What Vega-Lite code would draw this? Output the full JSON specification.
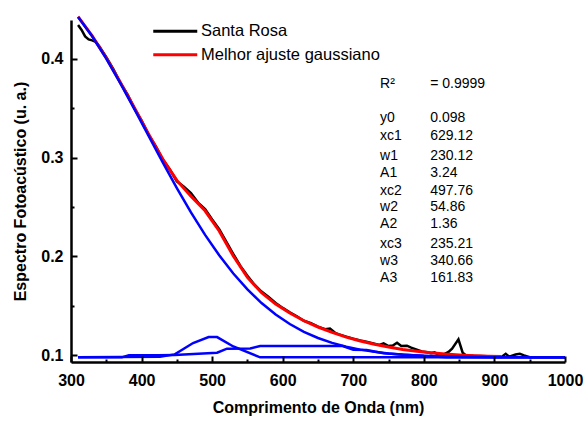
{
  "$schema": "https://vega.github.io/schema/vega-lite/v6.json",
  "width": 494,
  "height": 342,
  "padding": {"left": 71, "top": 20, "right": 20, "bottom": 61},
  "autosize": {"type": "none"},
  "background": "white",
  "view": {"stroke": null, "strokeWidth": 0, "fill": null},
  "config": {"view": {"stroke": null, "strokeWidth": 0, "fill": null}, "font": "Liberation Sans"},
  "datasets": {
    "curves": [
      {"s": "Santa Rosa", "x": 310, "y": 0.434}, {"s": "Santa Rosa", "x": 315, "y": 0.429}, {"s": "Santa Rosa", "x": 320, "y": 0.4225}, {"s": "Santa Rosa", "x": 325, "y": 0.4195}, {"s": "Santa Rosa", "x": 330, "y": 0.4185}, {"s": "Santa Rosa", "x": 335, "y": 0.417}, {"s": "Santa Rosa", "x": 340, "y": 0.4125}, {"s": "Santa Rosa", "x": 350, "y": 0.4015}, {"s": "Santa Rosa", "x": 360, "y": 0.3895}, {"s": "Santa Rosa", "x": 370, "y": 0.3755}, {"s": "Santa Rosa", "x": 380, "y": 0.364}, {"s": "Santa Rosa", "x": 390, "y": 0.3495}, {"s": "Santa Rosa", "x": 400, "y": 0.3375}, {"s": "Santa Rosa", "x": 410, "y": 0.323}, {"s": "Santa Rosa", "x": 420, "y": 0.3115}, {"s": "Santa Rosa", "x": 430, "y": 0.298}, {"s": "Santa Rosa", "x": 440, "y": 0.288}, {"s": "Santa Rosa", "x": 450, "y": 0.276}, {"s": "Santa Rosa", "x": 460, "y": 0.2705}, {"s": "Santa Rosa", "x": 470, "y": 0.264}, {"s": "Santa Rosa", "x": 480, "y": 0.2545}, {"s": "Santa Rosa", "x": 490, "y": 0.248}, {"s": "Santa Rosa", "x": 500, "y": 0.2375}, {"s": "Santa Rosa", "x": 510, "y": 0.2275}, {"s": "Santa Rosa", "x": 520, "y": 0.215}, {"s": "Santa Rosa", "x": 530, "y": 0.2025}, {"s": "Santa Rosa", "x": 540, "y": 0.1905}, {"s": "Santa Rosa", "x": 550, "y": 0.1805}, {"s": "Santa Rosa", "x": 560, "y": 0.1715}, {"s": "Santa Rosa", "x": 570, "y": 0.1645}, {"s": "Santa Rosa", "x": 580, "y": 0.159}, {"s": "Santa Rosa", "x": 590, "y": 0.153}, {"s": "Santa Rosa", "x": 600, "y": 0.148}, {"s": "Santa Rosa", "x": 610, "y": 0.1435}, {"s": "Santa Rosa", "x": 620, "y": 0.1395}, {"s": "Santa Rosa", "x": 630, "y": 0.135}, {"s": "Santa Rosa", "x": 640, "y": 0.1325}, {"s": "Santa Rosa", "x": 650, "y": 0.129}, {"s": "Santa Rosa", "x": 660, "y": 0.1265}, {"s": "Santa Rosa", "x": 667, "y": 0.1272}, {"s": "Santa Rosa", "x": 675, "y": 0.1225}, {"s": "Santa Rosa", "x": 680, "y": 0.1212}, {"s": "Santa Rosa", "x": 690, "y": 0.119}, {"s": "Santa Rosa", "x": 700, "y": 0.1168}, {"s": "Santa Rosa", "x": 710, "y": 0.115}, {"s": "Santa Rosa", "x": 720, "y": 0.1135}, {"s": "Santa Rosa", "x": 730, "y": 0.1118}, {"s": "Santa Rosa", "x": 737, "y": 0.1105}, {"s": "Santa Rosa", "x": 743, "y": 0.1122}, {"s": "Santa Rosa", "x": 750, "y": 0.1095}, {"s": "Santa Rosa", "x": 756, "y": 0.11}, {"s": "Santa Rosa", "x": 762, "y": 0.1128}, {"s": "Santa Rosa", "x": 768, "y": 0.1095}, {"s": "Santa Rosa", "x": 776, "y": 0.1098}, {"s": "Santa Rosa", "x": 782, "y": 0.1078}, {"s": "Santa Rosa", "x": 790, "y": 0.1058}, {"s": "Santa Rosa", "x": 797, "y": 0.104}, {"s": "Santa Rosa", "x": 805, "y": 0.1032}, {"s": "Santa Rosa", "x": 810, "y": 0.1022}, {"s": "Santa Rosa", "x": 815, "y": 0.103}, {"s": "Santa Rosa", "x": 820, "y": 0.1012}, {"s": "Santa Rosa", "x": 827, "y": 0.1005}, {"s": "Santa Rosa", "x": 835, "y": 0.1035}, {"s": "Santa Rosa", "x": 840, "y": 0.1068}, {"s": "Santa Rosa", "x": 849, "y": 0.1163}, {"s": "Santa Rosa", "x": 855, "y": 0.1027}, {"s": "Santa Rosa", "x": 860, "y": 0.1}, {"s": "Santa Rosa", "x": 870, "y": 0.0995}, {"s": "Santa Rosa", "x": 880, "y": 0.0993}, {"s": "Santa Rosa", "x": 890, "y": 0.099}, {"s": "Santa Rosa", "x": 900, "y": 0.0986}, {"s": "Santa Rosa", "x": 910, "y": 0.0984}, {"s": "Santa Rosa", "x": 916, "y": 0.1016}, {"s": "Santa Rosa", "x": 921, "y": 0.0987}, {"s": "Santa Rosa", "x": 930, "y": 0.1008}, {"s": "Santa Rosa", "x": 936, "y": 0.1015}, {"s": "Santa Rosa", "x": 942, "y": 0.1}, {"s": "Santa Rosa", "x": 950, "y": 0.0982}, {"s": "Santa Rosa", "x": 960, "y": 0.0981}, {"s": "Santa Rosa", "x": 980, "y": 0.098}, {"s": "Santa Rosa", "x": 1000, "y": 0.098},
      {"s": "Melhor ajuste gaussiano", "x": 310, "y": 0.4424}, {"s": "Melhor ajuste gaussiano", "x": 330, "y": 0.423}, {"s": "Melhor ajuste gaussiano", "x": 350, "y": 0.4007}, {"s": "Melhor ajuste gaussiano", "x": 370, "y": 0.376}, {"s": "Melhor ajuste gaussiano", "x": 390, "y": 0.3501}, {"s": "Melhor ajuste gaussiano", "x": 410, "y": 0.3237}, {"s": "Melhor ajuste gaussiano", "x": 430, "y": 0.2985}, {"s": "Melhor ajuste gaussiano", "x": 450, "y": 0.2769}, {"s": "Melhor ajuste gaussiano", "x": 470, "y": 0.2608}, {"s": "Melhor ajuste gaussiano", "x": 490, "y": 0.2462}, {"s": "Melhor ajuste gaussiano", "x": 510, "y": 0.2258}, {"s": "Melhor ajuste gaussiano", "x": 530, "y": 0.2005}, {"s": "Melhor ajuste gaussiano", "x": 550, "y": 0.1788}, {"s": "Melhor ajuste gaussiano", "x": 570, "y": 0.1634}, {"s": "Melhor ajuste gaussiano", "x": 590, "y": 0.1519}, {"s": "Melhor ajuste gaussiano", "x": 610, "y": 0.1428}, {"s": "Melhor ajuste gaussiano", "x": 630, "y": 0.135}, {"s": "Melhor ajuste gaussiano", "x": 650, "y": 0.1287}, {"s": "Melhor ajuste gaussiano", "x": 670, "y": 0.1232}, {"s": "Melhor ajuste gaussiano", "x": 690, "y": 0.1185}, {"s": "Melhor ajuste gaussiano", "x": 710, "y": 0.1146}, {"s": "Melhor ajuste gaussiano", "x": 730, "y": 0.1113}, {"s": "Melhor ajuste gaussiano", "x": 750, "y": 0.1084}, {"s": "Melhor ajuste gaussiano", "x": 770, "y": 0.106}, {"s": "Melhor ajuste gaussiano", "x": 790, "y": 0.1041}, {"s": "Melhor ajuste gaussiano", "x": 810, "y": 0.1026}, {"s": "Melhor ajuste gaussiano", "x": 830, "y": 0.1013}, {"s": "Melhor ajuste gaussiano", "x": 850, "y": 0.1004}, {"s": "Melhor ajuste gaussiano", "x": 870, "y": 0.0997}, {"s": "Melhor ajuste gaussiano", "x": 890, "y": 0.0992}, {"s": "Melhor ajuste gaussiano", "x": 910, "y": 0.0988}
    ],
    "peaks": [
      {"g": "g3", "x": 310, "y": 0.4422}, {"g": "g3", "x": 330, "y": 0.4226}, {"g": "g3", "x": 350, "y": 0.4001}, {"g": "g3", "x": 370, "y": 0.3751}, {"g": "g3", "x": 390, "y": 0.3488}, {"g": "g3", "x": 410, "y": 0.3219}, {"g": "g3", "x": 430, "y": 0.2951}, {"g": "g3", "x": 450, "y": 0.2692}, {"g": "g3", "x": 470, "y": 0.2446}, {"g": "g3", "x": 490, "y": 0.2218}, {"g": "g3", "x": 510, "y": 0.2012}, {"g": "g3", "x": 530, "y": 0.1828}, {"g": "g3", "x": 550, "y": 0.1667}, {"g": "g3", "x": 570, "y": 0.1529}, {"g": "g3", "x": 590, "y": 0.1413}, {"g": "g3", "x": 610, "y": 0.1317}, {"g": "g3", "x": 630, "y": 0.1238}, {"g": "g3", "x": 650, "y": 0.1176}, {"g": "g3", "x": 670, "y": 0.1126}, {"g": "g3", "x": 690, "y": 0.1087}, {"g": "g3", "x": 710, "y": 0.1058}, {"g": "g3", "x": 730, "y": 0.1036}, {"g": "g3", "x": 750, "y": 0.1019}, {"g": "g3", "x": 770, "y": 0.1007}, {"g": "g3", "x": 800, "y": 0.0996}, {"g": "g3", "x": 850, "y": 0.0986}, {"g": "g3", "x": 900, "y": 0.0982}, {"g": "g3", "x": 1000, "y": 0.098},
      {"g": "g1", "x": 310, "y": 0.098}, {"g": "g1", "x": 372, "y": 0.098}, {"g": "g1", "x": 382, "y": 0.1}, {"g": "g1", "x": 424, "y": 0.1}, {"g": "g1", "x": 447, "y": 0.1005}, {"g": "g1", "x": 507, "y": 0.1027}, {"g": "g1", "x": 521, "y": 0.1068}, {"g": "g1", "x": 554, "y": 0.107}, {"g": "g1", "x": 568, "y": 0.1095}, {"g": "g1", "x": 685, "y": 0.1095}, {"g": "g1", "x": 700, "y": 0.1056}, {"g": "g1", "x": 719, "y": 0.1054}, {"g": "g1", "x": 743, "y": 0.1022}, {"g": "g1", "x": 780, "y": 0.1004}, {"g": "g1", "x": 832, "y": 0.098}, {"g": "g1", "x": 1000, "y": 0.098},
      {"g": "g2", "x": 310, "y": 0.098}, {"g": "g2", "x": 426, "y": 0.0985}, {"g": "g2", "x": 447, "y": 0.101}, {"g": "g2", "x": 473, "y": 0.1125}, {"g": "g2", "x": 495, "y": 0.1185}, {"g": "g2", "x": 507, "y": 0.1185}, {"g": "g2", "x": 530, "y": 0.109}, {"g": "g2", "x": 568, "y": 0.098}, {"g": "g2", "x": 1000, "y": 0.098}
    ],
    "notes": [
      {"x": 738, "y": 0.3744, "t": "R²"}, {"x": 809, "y": 0.3744, "t": "= 0.9999"},
      {"x": 738, "y": 0.3397, "t": "y0"}, {"x": 809, "y": 0.3397, "t": "0.098"},
      {"x": 738, "y": 0.3218, "t": "xc1"}, {"x": 809, "y": 0.3218, "t": "629.12"},
      {"x": 738, "y": 0.3019, "t": "w1"}, {"x": 809, "y": 0.3019, "t": "230.12"},
      {"x": 738, "y": 0.2841, "t": "A1"}, {"x": 809, "y": 0.2841, "t": "3.24"},
      {"x": 738, "y": 0.2665, "t": "xc2"}, {"x": 809, "y": 0.2665, "t": "497.76"},
      {"x": 738, "y": 0.2497, "t": "w2"}, {"x": 809, "y": 0.2497, "t": "54.86"},
      {"x": 738, "y": 0.2328, "t": "A2"}, {"x": 809, "y": 0.2328, "t": "1.36"},
      {"x": 738, "y": 0.2123, "t": "xc3"}, {"x": 809, "y": 0.2123, "t": "235.21"},
      {"x": 738, "y": 0.1954, "t": "w3"}, {"x": 809, "y": 0.1954, "t": "340.66"},
      {"x": 738, "y": 0.1785, "t": "A3"}, {"x": 809, "y": 0.1785, "t": "161.83"}
    ]
  },
  "encoding": {
    "x": {"field": "x", "type": "quantitative", "title": "Comprimento de Onda (nm)",
      "scale": {"domain": [300, 1000], "nice": false, "zero": false},
      "axis": {"orient": "bottom", "values": [300, 350, 400, 450, 500, 550, 600, 650, 700, 750, 800, 850, 900, 950, 1000],
        "format": "d", "labelExpr": "datum.value % 100 === 0 ? datum.label : ''", "grid": false,
        "domain": true, "domainColor": "#000000", "domainOpacity": 1, "domainWidth": 2.5, "zindex": 1,
        "ticks": true, "tickColor": "#000000", "tickOpacity": 1, "tickWidth": 2,
        "tickSize": {"condition": {"test": "datum.value % 100 === 0", "value": -6}, "value": -3},
        "labelFont": "Liberation Sans", "labelFontSize": 16, "labelFontWeight": "bold", "labelColor": "black",
        "labelPadding": 16, "labelFlush": false, "labelOverlap": false,
        "titleFont": "Liberation Sans", "titleFontSize": 16, "titleFontWeight": "bold", "titleColor": "black", "titlePadding": 8}},
    "y": {"field": "y", "type": "quantitative", "title": "Espectro Fotoacústico (u. a.)",
      "scale": {"domain": [0.0933, 0.4391], "nice": false, "zero": false},
      "axis": {"orient": "left", "values": [0.1, 0.15, 0.2, 0.25, 0.3, 0.35, 0.4],
        "labelExpr": "abs(datum.value * 10 - round(datum.value * 10)) < 0.01 ? format(datum.value, '.1f') : ''", "grid": false,
        "domain": true, "domainColor": "#000000", "domainOpacity": 1, "domainWidth": 2.5, "zindex": 1,
        "ticks": true, "tickColor": "#000000", "tickOpacity": 1, "tickWidth": 2,
        "tickSize": {"condition": {"test": "abs(datum.value * 10 - round(datum.value * 10)) < 0.01", "value": -6}, "value": -3},
        "labelFont": "Liberation Sans", "labelFontSize": 16, "labelFontWeight": "bold", "labelColor": "black",
        "labelPadding": 14, "labelFlush": false, "labelOverlap": false,
        "titleFont": "Liberation Sans", "titleFontSize": 16, "titleFontWeight": "bold", "titleColor": "black", "titlePadding": 12}}
  },
  "layer": [
    {
      "data": {"name": "curves"},
      "transform": [{"filter": "datum.s === 'Santa Rosa'"}],
      "mark": {"type": "line", "strokeWidth": 2.5, "clip": false},
      "encoding": {
        "color": {"field": "s", "type": "nominal",
          "scale": {"domain": ["Santa Rosa", "Melhor ajuste gaussiano"], "range": ["black", "#ff0000"]},
          "legend": {"orient": "none", "legendX": 96, "legendY": 3, "title": null, "padding": 0,
            "symbolType": "M-4,0H4", "symbolSize": 121, "symbolStrokeWidth": 3,
            "labelOffset": 17.5, "labelFont": "Liberation Sans", "labelFontSize": 16.5, "labelColor": "black",
            "labelLimit": 400, "rowPadding": 6.5}}
      }
    },
    {
      "data": {"name": "curves"},
      "transform": [{"filter": "datum.s !== 'Santa Rosa'"}],
      "mark": {"type": "line", "strokeWidth": 3, "clip": false},
      "encoding": {"color": {"field": "s", "type": "nominal"}}
    },
    {
      "data": {"name": "peaks"},
      "mark": {"type": "line", "strokeWidth": 2.5, "color": "#0000ff", "clip": false},
      "encoding": {"detail": {"field": "g", "type": "nominal"}}
    },
    {
      "data": {"name": "notes"},
      "mark": {"type": "text", "align": "left", "baseline": "middle", "font": "Liberation Sans", "fontSize": 14, "color": "black"},
      "encoding": {"text": {"field": "t", "type": "nominal"}}
    }
  ]
}
